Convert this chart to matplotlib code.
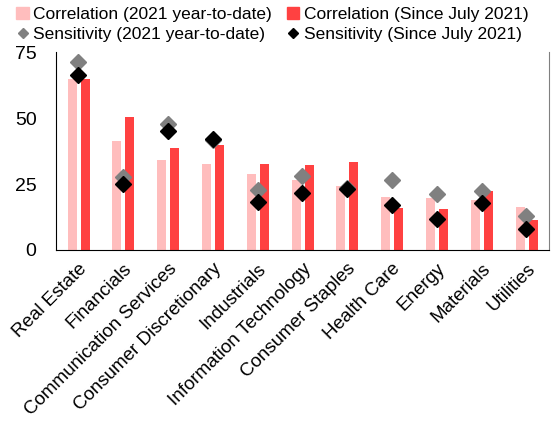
import numpy as np
import matplotlib
matplotlib.use("Agg")
import matplotlib.pyplot as plt
from matplotlib.patches import Patch
from matplotlib.lines import Line2D

plt.rcParams['font.family'] = ['Liberation Sans', 'DejaVu Sans']

sectors = ["Real Estate", "Financials", "Communication Services",
           "Consumer Discretionary", "Industrials", "Information Technology",
           "Consumer Staples", "Health Care", "Energy", "Materials", "Utilities"]
corr_ytd = [64.8, 41.3, 34.1, 32.6, 28.8, 26.4, 24.2, 20.1, 19.8, 19.1, 16.3]
corr_jul = [64.8, 50.2, 38.6, 39.6, 32.6, 32.1, 33.2, 15.9, 15.4, 22.3, 11.2]
sens_ytd = [71.3, 27.8, 47.7, 41.7, 22.7, 28.0, 23.4, 26.4, 21.1, 22.5, 13.0]
sens_jul = [66.4, 25.0, 45.2, 42.0, 18.3, 21.5, 23.1, 17.0, 11.6, 17.7, 7.8]

c_light = '#FFBDBD'
c_red = '#FF4141'

fig = plt.figure(figsize=(5.6, 4.23), dpi=100)
ax = fig.add_axes([0.1, 0.409, 0.88, 0.468])

x = np.arange(len(sectors))
w = 0.2
ax.bar(x - 0.14, corr_ytd, w, color=c_light)
ax.bar(x + 0.15, corr_jul, w, color=c_red)
ax.plot(x, sens_ytd, 'D', color='#808080', ms=8.5, ls='none')
ax.plot(x, sens_jul, 'D', color='black', ms=8.5, ls='none')

ax.set_xlim(-0.5, len(sectors) - 0.5)
ax.set_ylim(0, 75)
ax.set_yticks([0, 25, 50, 75])
ax.set_xticks(x)
ax.set_xticklabels(sectors, rotation=45, ha='right', rotation_mode='anchor')
ax.tick_params(axis='y', length=0, labelsize=14, pad=14)
ax.tick_params(axis='x', length=0, labelsize=13.5, pad=7.5)
ax.spines['top'].set_visible(False)
ax.spines['right'].set_color('#808080')

handles = [
    Patch(color=c_light, label='Correlation (2021 year-to-date)'),
    Line2D([], [], marker='D', color='#808080', ls='none', ms=5,
           label='Sensitivity (2021 year-to-date)'),
    Patch(color=c_red, label='Correlation (Since July 2021)'),
    Line2D([], [], marker='D', color='black', ls='none', ms=5,
           label='Sensitivity (Since July 2021)'),
]
fig.legend(handles=handles, ncol=2, loc='upper left', bbox_to_anchor=(0.017, 1.0),
           frameon=False, fontsize=12.5, handlelength=0.7, handleheight=0.7,
           handletextpad=0.25, columnspacing=0.9, labelspacing=0.3,
           borderaxespad=0)

fig.savefig('out.png', dpi=100)
